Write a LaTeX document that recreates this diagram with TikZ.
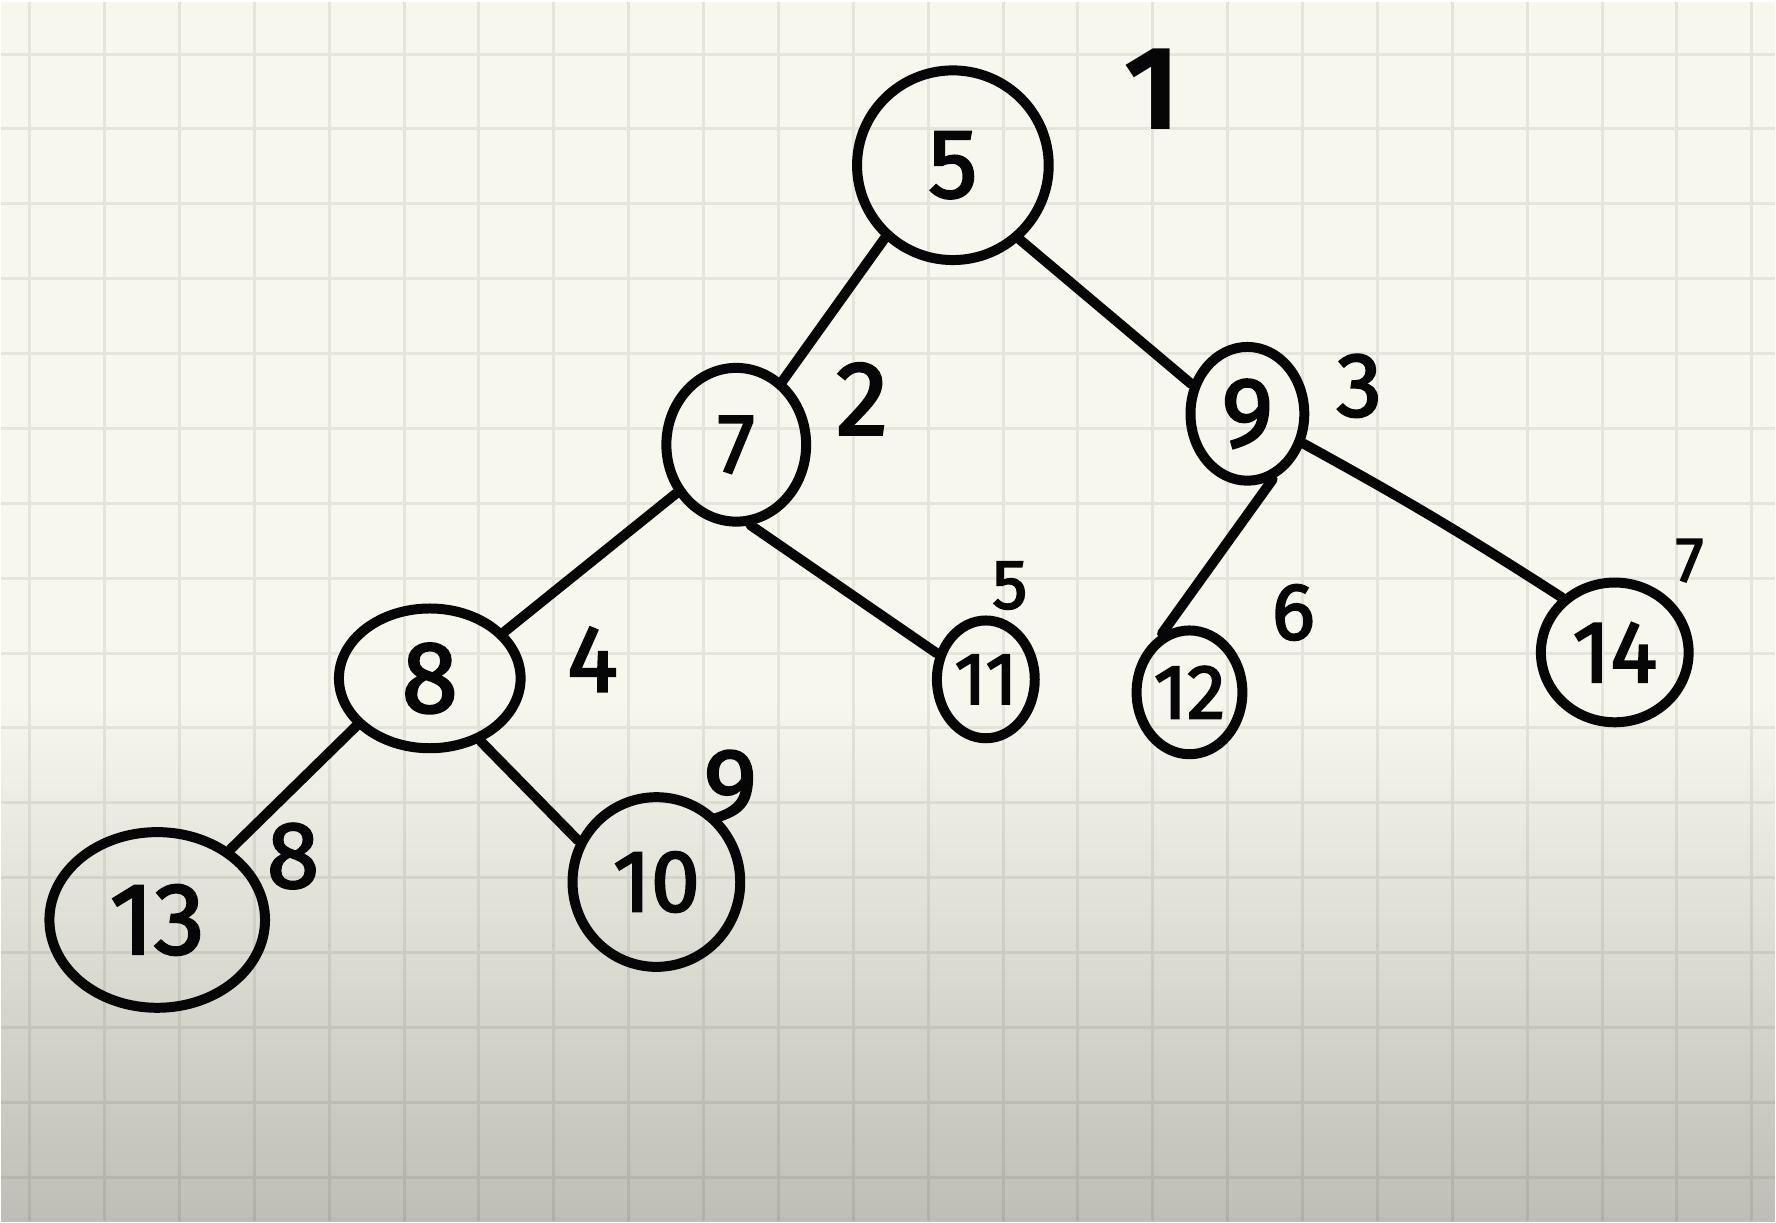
\documentclass[tikz,border=0pt]{standalone}
\usepackage{fontspec}
\setmainfont{Fira Sans}[UprightFeatures={FakeBold=2.4}]
\usetikzlibrary{shapes.geometric}
\definecolor{paper}{RGB}{248,247,237}
\definecolor{papershade}{RGB}{190,190,182}
\definecolor{ink}{RGB}{6,6,6}
\begin{document}
\begin{tikzpicture}[x=0.1mm,y=-0.1mm,
  numsize/.style={font=\fontsize{#1pt}{#1pt}\selectfont},
  ring/.style={ellipse, draw=ink, text=ink, line width=1mm, inner sep=0pt},
  edge/.style={draw=ink, line width=1mm, line cap=round},
  rank/.style={text=ink, inner sep=0pt}]

% squared paper, darkening towards the bottom
\fill[paper] (0,0) rectangle (1776,1222);
\shade[top color=paper, bottom color=papershade] (0,700) rectangle (1776,1222);
\draw[black, opacity=0.07, line width=0.3mm]
  \foreach \i in {0,...,23} {({28.3+75*\i},0) -- ++(0,1222)}
  \foreach \j in {0,...,15} {(0,{52.7+75*\j}) -- ++(1776,0)};
\useasboundingbox (0,0) rectangle (1776,1222);

% heap nodes
\node[ring, minimum width=19.2mm, minimum height=19mm, numsize=28] (n5) at (953,164) {5};
\node[ring, minimum width=14mm, minimum height=15.4mm, numsize=24] (n7) at (736,444) {7};
\node[ring, minimum width=11.4mm, minimum height=13.4mm, numsize=28] (n9) at (1248,413) {9};
\node[ring, minimum width=18.2mm, minimum height=14mm, numsize=29] (n8) at (429,678) {8};
\node[ring, minimum width=9.8mm, minimum height=11.8mm, numsize=21] (n11) at (986,679) {11};
\node[ring, minimum width=10.6mm, minimum height=12.4mm, numsize=22] (n12) at (1190,692) {12};
\node[ring, minimum width=14.8mm, minimum height=14mm, numsize=25] (n14) at (1616,652) {14};
\node[ring, minimum width=16.8mm, minimum height=17mm, numsize=25] (n10) at (656,882) {10};
\node[ring, minimum width=21.6mm, minimum height=17.6mm, numsize=29] (n13) at (156,920) {13};

% tree edges
\draw[edge] (n5.227) -- (n7.54);
\draw[edge] (n5.312) -- (n9.152);
\draw[edge] (n7.219) -- (n8.32);
\draw[edge] (n7.280) -- (n11.152);
\draw[edge] (n9.291) -- (n12.115);
\draw[edge] (n9.332) to[bend left=2] (n14.134);
\draw[edge] (n8.213) -- (n13.44);
\draw[edge] (n8.309) -- (n10.152);

% array positions
\node[rank, numsize=34, font=\bfseries\fontsize{34pt}{34pt}\selectfont] (r1) at (1153,88) {1};
\node[rank, numsize=30] (r2) at (862,398) {2};
\node[rank, numsize=26] (r3) at (1360,385) {3};
\node[rank, numsize=27] (r4) at (592,659) {4};
\node[rank, numsize=20] (r5) at (1010,585) {5};
\node[rank, numsize=23] (r6) at (1294,612) {6};
\node[rank, numsize=18] (r7) at (1691,560) {7};
\node[rank, numsize=27] (r8) at (292,856) {8};
\node[rank, numsize=29] (r9) at (730,786) {9};
\end{tikzpicture}
\end{document}
